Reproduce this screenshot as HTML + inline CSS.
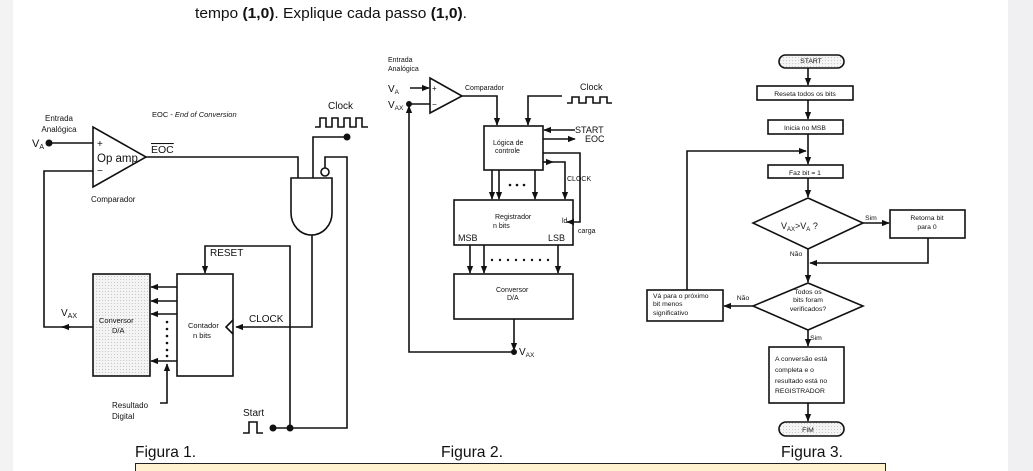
<!DOCTYPE html>
<html><head><meta charset="utf-8"><style>
html,body{margin:0;padding:0;width:1033px;height:471px;overflow:hidden;background:#fff}
svg{display:block}
text{font-family:"Liberation Sans",sans-serif;fill:#111}
</style></head><body>
<svg width="1033" height="471" viewBox="0 0 1033 471" xmlns="http://www.w3.org/2000/svg">
<defs>
<marker id="a" viewBox="0 0 10 10" refX="9" refY="5" markerWidth="5" markerHeight="5" orient="auto-start-reverse"><path d="M0,1 L10,5 L0,9 z" fill="#111"/></marker>
<pattern id="st" width="3" height="3" patternUnits="userSpaceOnUse"><rect width="3" height="3" fill="#f4f4f4"/><rect width="1" height="1" fill="#c8c8c8"/></pattern>
</defs>
<rect x="0" y="0" width="13" height="471" fill="#f3f3f4"/>
<rect x="1008" y="0" width="25" height="471" fill="#f0f0f2"/>
<text x="195" y="18" style="font-family:'Liberation Sans',sans-serif;font-size:15px" fill="#222" textLength="272" lengthAdjust="spacingAndGlyphs">tempo <tspan font-weight="bold">(1,0)</tspan>. Explique cada passo <tspan font-weight="bold">(1,0)</tspan>.</text>

<g stroke="#111" stroke-width="1.6" fill="none">
<!-- Figure 1 -->
<path d="M49,143 H93"/>
<path d="M93,127 L93,187 L146,157 Z"/>
<path d="M146,157 H298 V178"/>
<path d="M291,178 H332 V213 A20.5,22 0 0 1 291,213 Z"/>
<circle cx="325" cy="172" r="4"/>
<path d="M313,178 V137 H347"/>
<path d="M315,127 h5 v-9 h6 v9 h6 v-9 h6 v9 h6 v-9 h6 v9 h6 v-9 h6 v9 h6"/>
<path d="M325,168 V157 H347 V428 H273"/>
<path d="M312,235 V327 H236" marker-end="url(#a)"/>
<path d="M290,428 V246 H205 V273" marker-end="url(#a)"/>
<rect x="177" y="274" width="56" height="102"/>
<path d="M233,320 L226,327 L233,334"/>
<rect x="93" y="274" width="57" height="102" fill="url(#st)"/>
<path d="M177,287 H151" marker-end="url(#a)"/>
<path d="M177,301 H151" marker-end="url(#a)"/>
<path d="M177,314 H151" marker-end="url(#a)"/>
<path d="M177,361 H151" marker-end="url(#a)"/>
<path d="M160,403 H167 V364" marker-end="url(#a)"/>
<path d="M93,327 H44 V171 H93"/>
<path d="M70,327 H62" marker-end="url(#a)"/>
<path d="M243,433 h6 v-11 h8 v11 h6"/>
<!-- Figure 2 -->
<path d="M410,88 H429" marker-end="url(#a)"/>
<path d="M430,78 L430,113 L462,96 Z"/>
<path d="M409,104 H430"/>
<path d="M462,96 H497 V125" marker-end="url(#a)"/>
<path d="M562,96 H528 V125" marker-end="url(#a)"/>
<path d="M567,103 h5 v-6 h7 v6 h7 v-6 h7 v6 h7 v-6 h7 v6 h5"/>
<rect x="484" y="126" width="59" height="44"/>
<path d="M575,130 H544" marker-end="url(#a)"/>
<path d="M543,139 H575" marker-end="url(#a)"/>
<path d="M543,153 H580 V222 H567" marker-end="url(#a)"/>
<path d="M543,162 H553" marker-end="url(#a)"/>
<path d="M553,162 H565 V199" marker-end="url(#a)"/>
<path d="M492,170 V199" marker-end="url(#a)"/>
<path d="M499,170 V199" marker-end="url(#a)"/>
<path d="M535,170 V199" marker-end="url(#a)"/>
<rect x="454" y="200" width="119" height="45"/>
<path d="M470,245 V273" marker-end="url(#a)"/>
<path d="M484,245 V273" marker-end="url(#a)"/>
<path d="M558,245 V273" marker-end="url(#a)"/>
<rect x="454" y="274" width="119" height="45"/>
<path d="M514,319 V350" marker-end="url(#a)"/>
<path d="M514,352 H409 V106" marker-end="url(#a)"/>
<!-- Figure 3 -->
<rect x="779" y="55" width="65" height="13" rx="6.5" fill="url(#st)"/>
<path d="M808,68 V85" marker-end="url(#a)"/>
<rect x="757" y="86" width="96" height="14"/>
<path d="M808,100 V119" marker-end="url(#a)"/>
<rect x="768" y="120" width="75" height="14"/>
<path d="M808,134 V164" marker-end="url(#a)"/>
<path d="M687,290 V151 H806" marker-end="url(#a)"/>
<rect x="768" y="165" width="75" height="13"/>
<path d="M808,178 V197" marker-end="url(#a)"/>
<path d="M808,198 L863,223 L808,249 L753,223 Z"/>
<path d="M863,223 H889" marker-end="url(#a)"/>
<rect x="890" y="210" width="75" height="28"/>
<path d="M928,238 V263 H810" marker-end="url(#a)"/>
<path d="M808,249 V282" marker-end="url(#a)"/>
<path d="M808,283 L863,306 L808,330 L753,306 Z"/>
<path d="M753,306 H724" marker-end="url(#a)"/>
<rect x="647" y="290" width="76" height="31"/>
<path d="M808,330 V346" marker-end="url(#a)"/>
<rect x="769" y="347" width="75" height="56"/>
<path d="M808,403 V421" marker-end="url(#a)"/>
<rect x="779" y="422" width="65" height="14" rx="7" fill="url(#st)"/>
</g>
<g fill="#111">
<circle cx="49" cy="143" r="3.5"/><circle cx="347" cy="137" r="3.5"/>
<circle cx="273" cy="428" r="3.5"/><circle cx="290" cy="428" r="3.5"/>
<circle cx="167" cy="322" r="1.3"/><circle cx="167" cy="329" r="1.3"/><circle cx="167" cy="336" r="1.3"/><circle cx="167" cy="343" r="1.3"/><circle cx="167" cy="350" r="1.3"/><circle cx="167" cy="356" r="1.3"/>
<circle cx="409" cy="104" r="3"/><circle cx="514" cy="352" r="3"/>
<circle cx="510" cy="185" r="1.3"/><circle cx="517" cy="185" r="1.3"/><circle cx="524" cy="185" r="1.3"/>
<circle cx="492" cy="260" r="1.2"/><circle cx="500" cy="260" r="1.2"/><circle cx="508" cy="260" r="1.2"/><circle cx="516" cy="260" r="1.2"/><circle cx="524" cy="260" r="1.2"/><circle cx="532" cy="260" r="1.2"/><circle cx="540" cy="260" r="1.2"/><circle cx="548" cy="260" r="1.2"/>
</g>
<g font-size="8">
<text x="59" y="121" text-anchor="middle">Entrada</text><text x="59" y="132" text-anchor="middle">Analógica</text>
<text x="152" y="117" font-size="7.5">EOC - <tspan font-style="italic">End of Conversion</tspan></text>
<text x="91" y="202" font-size="8">Comparador</text>
<text x="112" y="408" text-anchor="start">Resultado</text><text x="112" y="419">Digital</text>
<text x="188" y="328" font-size="7.5">Contador</text><text x="193" y="338" font-size="7.5">n bits</text>
<text x="99" y="323" font-size="7.5">Conversor</text><text x="112" y="333" font-size="7.5">D/A</text>
</g>
<text x="32" y="147" font-size="11">V<tspan font-size="7" dy="2">A</tspan></text>
<text x="97" y="147" font-size="10">+</text><text x="97" y="174" font-size="10">−</text>
<text x="97" y="162" font-size="11.5">Op amp</text>
<text x="151" y="153" font-size="10.5" text-decoration="overline">EOC</text>
<text x="328" y="109" font-size="10">Clock</text>
<text x="210" y="256" font-size="10">RESET</text>
<text x="249" y="322" font-size="10">CLOCK</text>
<text x="61" y="316" font-size="10">V<tspan font-size="7" dy="2">AX</tspan></text>
<text x="243" y="416" font-size="10">Start</text>
<g font-size="7">
<text x="388" y="62">Entrada</text><text x="388" y="71">Analógica</text>
<text x="465" y="90">Comparador</text>
<text x="493" y="145">Lógica de</text><text x="495" y="153">controle</text>
<text x="567" y="181">CLOCK</text>
<text x="495" y="219">Registrador</text><text x="493" y="228">n bits</text>
<text x="562" y="223">ld</text><text x="578" y="233">carga</text>
<text x="496" y="292">Conversor</text><text x="507" y="300">D/A</text>
</g>
<text x="388" y="92" font-size="10">V<tspan font-size="6.5" dy="2">A</tspan></text>
<text x="388" y="108" font-size="10">V<tspan font-size="6.5" dy="2">AX</tspan></text>
<text x="432" y="91" font-size="8">+</text><text x="432" y="107" font-size="8">−</text>
<text x="580" y="90" font-size="9">Clock</text>
<text x="575" y="133" font-size="9">START</text><text x="585" y="142" font-size="9">EOC</text>
<text x="458" y="241" font-size="9">MSB</text><text x="548" y="241" font-size="9">LSB</text>
<text x="519" y="355" font-size="10">V<tspan font-size="6.5" dy="2">AX</tspan></text>
<g font-size="6.8" text-anchor="middle">
<text x="811" y="63">START</text>
<text x="805" y="96">Reseta todos os bits</text>
<text x="805" y="130">Inicia no MSB</text>
<text x="805" y="175">Faz bit = 1</text>
<text x="871" y="220">Sim</text>
<text x="927" y="220">Retorna bit</text><text x="927" y="229">para 0</text>
<text x="796" y="256">Não</text>
<text x="808" y="294">Todos os</text><text x="808" y="302">bits foram</text><text x="808" y="311">verificados?</text>
<text x="743" y="300">Não</text>
<text x="816" y="340">Sim</text>
<text x="808" y="432">FIM</text>
</g>
<g font-size="6.8">
<text x="653" y="298">Vá para o próximo</text><text x="653" y="306">bit menos</text><text x="653" y="315">significativo</text>
<text x="775" y="361">A conversão está</text><text x="775" y="372">completa e o</text><text x="775" y="383">resultado está no</text><text x="775" y="393">REGISTRADOR</text>
</g>
<text x="781" y="229" font-size="9">V<tspan font-size="6" dy="2">AX</tspan><tspan dy="-2">&gt;V</tspan><tspan font-size="6" dy="2">A</tspan><tspan dy="-2"> ?</tspan></text>
<g font-size="16" fill="#222">
<text x="135" y="457" textLength="61" lengthAdjust="spacingAndGlyphs">Figura 1.</text>
<text x="441" y="457" textLength="62" lengthAdjust="spacingAndGlyphs">Figura 2.</text>
<text x="781" y="457" textLength="62" lengthAdjust="spacingAndGlyphs">Figura 3.</text>
</g>
<rect x="135.5" y="463.5" width="750" height="20" fill="#fff3cf" stroke="#222" stroke-width="1"/>
</svg>
</body></html>
